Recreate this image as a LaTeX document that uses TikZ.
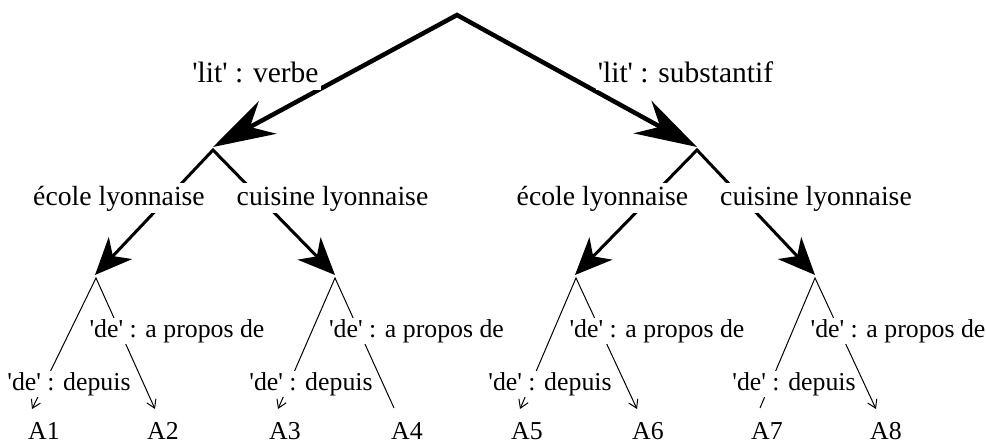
\documentclass[tikz,border=0pt]{standalone}
\usepackage{fontspec}
\setmainfont{Liberation Serif}[Ligatures=TeXOff]
\usetikzlibrary{arrows.meta}
\tikzset{
  bigtip/.tip={Stealth[length=62pt,width=37pt,inset=20pt]},
  midtip/.tip={Stealth[length=37pt,width=32pt,inset=11pt]},
  smalltip/.tip={Straight Barb[length=8pt,width=10pt]},
  lvlone/.style={line width=4.5pt, line join=miter, arrows={bigtip-bigtip}},
  lvltwo/.style={line width=3pt, line join=miter, arrows={midtip-midtip}},
  lvlthree/.style={line width=1pt, line join=miter},
  labone/.style={anchor=base, fill=white, inner xsep=2pt, inner ysep=1pt,
    text height=20pt, text depth=6pt, font=\fontsize{29.5}{32}\selectfont},
  labtwo/.style={anchor=base, fill=white, inner xsep=2pt, inner ysep=2pt,
    text height=20pt, text depth=6pt, font=\fontsize{27.7}{30}\selectfont},
  labthree/.style={anchor=base, fill=white, inner xsep=1.5pt, inner ysep=1.5pt,
    text height=18pt, text depth=5.6pt, font=\fontsize{25.8}{28}\selectfont},
  leaf/.style={anchor=base, inner sep=0pt, font=\fontsize{25.8}{28}\selectfont},
}
\begin{document}
\begin{tikzpicture}[x=1pt,y=-1pt]
\useasboundingbox (0,0) rectangle (986,441);
\fill[white] (0,0) rectangle (986,441);
% coordinates
\coordinate (root) at (457,15);
\coordinate (n1) at (213,147);
\coordinate (n2) at (697,147);
\coordinate (m1) at (213,150);
\coordinate (m2) at (697,150);
\coordinate (c1) at (95,275);
\coordinate (c2) at (335,275);
\coordinate (c3) at (575,275);
\coordinate (c4) at (815,275);
\coordinate (g1) at (96,278);
\coordinate (g2) at (335,278);
\coordinate (g3) at (576,278);
\coordinate (g4) at (815,278);
\coordinate (t1) at (32,409);
\coordinate (t2) at (155,409);
\coordinate (t3) at (278,409);
\coordinate (t4) at (394,408);
\coordinate (t5) at (520,409);
\coordinate (t6) at (637,409);
\coordinate (t7) at (760,408);
\coordinate (t8) at (876,409);
% connectors
\draw[lvlone] (n1) -- (root) -- (n2);
\draw[lvltwo] (c1) -- (m1) -- (c2);
\draw[lvltwo] (c3) -- (m2) -- (c4);
\draw[lvlthree, arrows={smalltip-smalltip}] (t1) -- (g1) -- (t2);
\draw[lvlthree, arrows={smalltip-}] (t3) -- (g2) -- (t4);
\draw[lvlthree, arrows={smalltip-smalltip}] (t5) -- (g3) -- (t6);
\draw[lvlthree, arrows={-smalltip}] (t7) -- (g4) -- (t8);
% labels
\node[labone] (lv) at (255.5,83) {'lit' : verbe};
\node[labone] (ls) at (685.5,83) {'lit' : substantif};
\node[labtwo] (e1) at (119,205) {école lyonnaise};
\node[labtwo] (k1) at (332.5,205) {cuisine lyonnaise};
\node[labtwo] (e2) at (602.5,205) {école lyonnaise};
\node[labtwo] (k2) at (816,205) {cuisine lyonnaise};
\node[labthree] (p1) at (177,337) {'de' : a propos de};
\node[labthree] (p2) at (416.5,337) {'de' : a propos de};
\node[labthree] (p3) at (657,337) {'de' : a propos de};
\node[labthree] (p4) at (898,337) {'de' : a propos de};
\node[labthree] (d1) at (69,390) {'de' : depuis};
\node[labthree] (d2) at (311,390) {'de' : depuis};
\node[labthree] (d3) at (550,390) {'de' : depuis};
\node[labthree] (d4) at (794,390) {'de' : depuis};
\node[leaf] (a1) at (44,439) {A1};
\node[leaf] (a2) at (163,439) {A2};
\node[leaf] (a3) at (285,439) {A3};
\node[leaf] (a4) at (407,439) {A4};
\node[leaf] (a5) at (527,439) {A5};
\node[leaf] (a6) at (648,439) {A6};
\node[leaf] (a7) at (767,439) {A7};
\node[leaf] (a8) at (886,439) {A8};
\end{tikzpicture}
\end{document}
